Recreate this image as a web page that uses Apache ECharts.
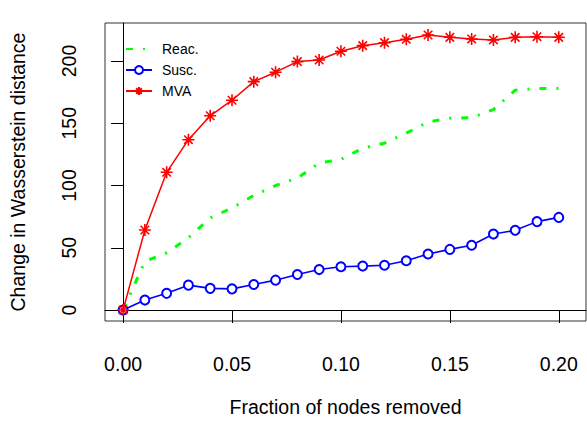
<!DOCTYPE html>
<html>
<head>
<meta charset="utf-8">
<script src="https://cdn.jsdelivr.net/npm/echarts@6/dist/echarts.min.js"></script>
<style>
html,body{margin:0;padding:0;background:#fff;}
#chart{width:587px;height:426px;}
</style>
</head>
<body>
<div id="chart"></div>
<script>
var fractions = [0, 0.01, 0.02, 0.03, 0.04, 0.05, 0.06, 0.07, 0.08, 0.09, 0.10, 0.11, 0.12, 0.13, 0.14, 0.15, 0.16, 0.17, 0.18, 0.19, 0.20];
var reac = [0, 39, 46, 58, 74, 82, 92, 100, 106, 118, 121, 130, 134, 142, 151, 154, 154.5, 161, 176.5, 178, 178];
var susc = [0, 8, 13.4, 20, 17.4, 17, 20.5, 24, 28.5, 32.5, 34.8, 35.3, 36, 39.6, 45, 48.7, 52, 61, 64, 71, 74.4];
var mva  = [0, 64.3, 110.6, 136.8, 156, 168.5, 183.4, 191, 199.5, 200.8, 207.8, 212.3, 214.7, 217.4, 220.9, 219, 217.7, 216.9, 219, 219.5, 219];
var xTicks = [0, 0.05, 0.10, 0.15, 0.20];
var yTicks = [0, 50, 100, 150, 200];
var seriesNames = ['Reac.', 'Susc.', 'MVA'];

function pairs(vals){ return fractions.map(function(x,i){ return [x, vals[i]]; }); }

var FONT = 'Liberation Sans';
var chart = echarts.init(document.getElementById('chart'), null, {renderer:'svg'});
chart.setOption({
  animation: false,
  backgroundColor: '#fff',
  grid: {left:105, right:1, top:23, bottom:105, show:true, borderColor:'#333', borderWidth:1},
  legend: {
    orient: 'vertical', left: 120, top: 37,
    itemWidth: 26, itemHeight: 10, itemGap: 7,
    data: [
      {name: seriesNames[0], itemStyle: {color: 'rgba(0,0,0,0)', borderWidth: 0}},
      {name: seriesNames[1]},
      {name: seriesNames[2]}
    ],
    textStyle: {fontFamily: FONT, fontSize: 14, color: '#000', padding: [0,0,0,5]}
  },
  xAxis: {
    type: 'value', min: -0.0083, max: 0.2125,
    name: 'Fraction of nodes removed', nameLocation: 'middle', nameGap: 76,
    nameTextStyle: {fontFamily: FONT, fontSize: 19.5, color: '#000'},
    axisLine: {show: true, lineStyle: {color: '#000', width: 1}},
    axisTick: {show: true, customValues: xTicks, length: 13, lineStyle: {color: '#000'}},
    axisLabel: {customValues: xTicks, margin: 33, fontFamily: FONT, fontSize: 19.5, color: '#000',
      formatter: function(v){ return v.toFixed(2); }},
    splitLine: {show: false}
  },
  yAxis: {
    type: 'value', min: -8.8, max: 230.5,
    name: 'Change in Wasserstein distance', nameLocation: 'middle', nameGap: 77, nameRotate: 90,
    nameTextStyle: {fontFamily: FONT, fontSize: 19.5, color: '#000'},
    axisLine: {show: true, lineStyle: {color: '#000', width: 1}},
    axisTick: {show: true, customValues: yTicks, length: 12, lineStyle: {color: '#000'}},
    axisLabel: {customValues: yTicks, rotate: 90, margin: 26, fontFamily: FONT, fontSize: 19.5, color: '#000'},
    splitLine: {show: false}
  },
  series: [
    {
      name: seriesNames[0], type: 'line', data: pairs(reac),
      showSymbol: false, symbol: 'circle', symbolSize: 0,
      color: '#00ff00',
      lineStyle: {color: '#00ff00', width: 3, type: [7, 10, 2, 10]},
      z: 2
    },
    {
      name: seriesNames[1], type: 'line', data: pairs(susc),
      symbol: 'emptyCircle', symbolSize: 9, showSymbol: true,
      color: '#0000ff',
      itemStyle: {color: '#0000ff', borderWidth: 1.4},
      lineStyle: {color: '#0000ff', width: 1.6, type: 'solid'},
      z: 3
    },
    {
      name: seriesNames[2], type: 'line', data: pairs(mva),
      symbol: 'path://M0,-10 L0,10 M-10,0 L10,0 M-7.07,-7.07 L7.07,7.07 M-7.07,7.07 L7.07,-7.07',
      symbolSize: 12,
      color: '#ff0000',
      itemStyle: {color: 'none', borderColor: '#ff0000', borderWidth: 1.6},
      lineStyle: {color: '#ff0000', width: 1.5, type: 'solid'},
      z: 4
    }
  ]
});
</script>
</body>
</html>
